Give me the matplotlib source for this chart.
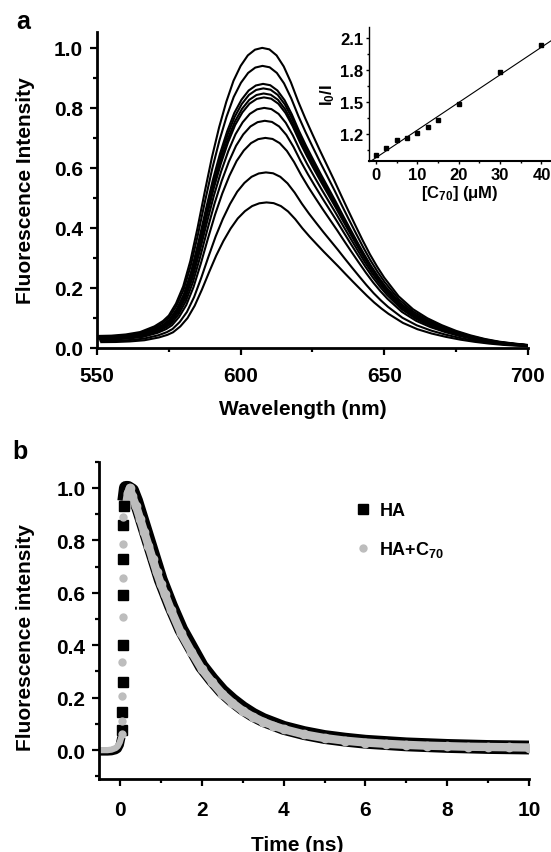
import numpy as np
import matplotlib
matplotlib.use("Agg")
from matplotlib import pyplot as plt
from matplotlib.ticker import MultipleLocator

plt.rcParams['font.family'] = ['Liberation Sans', 'DejaVu Sans']
plt.rcParams['font.weight'] = 'bold'
plt.rcParams['axes.labelweight'] = 'bold'
plt.rcParams['mathtext.fontset'] = 'custom'
plt.rcParams['mathtext.rm'] = 'Liberation Sans:bold'
plt.rcParams['mathtext.bf'] = 'Liberation Sans:bold'
plt.rcParams['mathtext.default'] = 'bf'

# ---- panel a: emission spectra (shape) ----
shape_wl = [550, 555, 560, 565, 570, 573, 575, 577.5, 580, 582.5, 585, 587.5,
            590, 592.5, 595, 597.5, 600, 602.5, 605, 607.5, 610, 612.5, 615,
            617.5, 620, 622.5, 625, 627.5, 630, 632.5, 635, 637.5, 640, 642.5,
            645, 647.5, 650, 655, 660, 665, 670, 675, 680, 685, 690, 695, 700]
shape_val = [0.040, 0.041, 0.045, 0.053, 0.072, 0.090, 0.108, 0.148, 0.205,
             0.290, 0.400, 0.520, 0.635, 0.735, 0.820, 0.890, 0.940, 0.975,
             0.994, 1.000, 0.995, 0.975, 0.938, 0.885, 0.822, 0.765, 0.712,
             0.660, 0.610, 0.560, 0.508, 0.457, 0.407, 0.358, 0.312, 0.271,
             0.234, 0.172, 0.129, 0.099, 0.076, 0.057, 0.042, 0.030, 0.021,
             0.015, 0.010]
peak_heights = [1.0, 0.94, 0.88, 0.865, 0.848, 0.835, 0.80, 0.757, 0.70, 0.585, 0.485]
peak_shift = [0.0, 0.1, 0.3, 0.4, 0.5, 0.6, 0.7, 0.9, 1.1, 1.3, 1.5]

# inset: Stern-Volmer plot
c70_conc = [0, 2.5, 5, 7.5, 10, 12.5, 15, 20, 30, 40]
i0_over_i = [1.0, 1.07, 1.14, 1.16, 1.21, 1.27, 1.33, 1.48, 1.78, 2.03]

# ---- panel b: fluorescence decay ----
ha_pre_t = [-0.5, -0.4, -0.3, -0.2, -0.1, -0.05, 0.0, 0.04]
ha_pre_y = [-0.005, -0.005, -0.005, -0.004, 0.0, 0.005, 0.02, 0.05]
ha_rise_t = [0.06, 0.065, 0.07, 0.075, 0.08, 0.085, 0.09, 0.095]
ha_rise_y = [0.075, 0.145, 0.258, 0.40, 0.59, 0.73, 0.858, 0.93]
ha_t = [0.11, 0.15, 0.2, 0.3, 0.4, 0.5, 0.6, 0.7, 0.8, 0.9, 1.0, 1.1, 1.25,
        1.5, 1.75, 2.0, 2.25, 2.5, 2.75, 3.0, 3.25, 3.5, 3.75, 4.0, 4.5, 5.0,
        5.5, 6.0, 6.5, 7.0, 7.5, 8.0, 8.5, 9.0, 9.5, 10.0]
ha_y = [0.95, 1.0, 1.0, 0.99, 0.95, 0.90, 0.85, 0.80, 0.75, 0.70, 0.65, 0.61,
        0.55, 0.46, 0.39, 0.32, 0.27, 0.225, 0.19, 0.16, 0.135, 0.115, 0.10,
        0.085, 0.065, 0.05, 0.04, 0.032, 0.027, 0.022, 0.019, 0.016, 0.014,
        0.012, 0.011, 0.01]

hac_pre_t = [-0.5, -0.4, -0.3, -0.2, -0.1, -0.05, 0.0, 0.04]
hac_pre_y = [0.0, 0.0, 0.0, 0.002, 0.008, 0.015, 0.03, 0.05]
hac_rise_t = [0.05, 0.055, 0.06, 0.065, 0.07, 0.075, 0.08, 0.085]
hac_rise_y = [0.06, 0.113, 0.208, 0.336, 0.507, 0.657, 0.786, 0.89]
hac_t = [0.15, 0.2, 0.25, 0.3, 0.4, 0.5, 0.6, 0.7, 0.8, 0.9, 1.0, 1.1, 1.25,
         1.5, 1.75, 2.0, 2.25, 2.5, 2.75, 3.0, 3.25, 3.5, 3.75, 4.0, 4.5, 5.0,
         5.5, 6.0, 6.5, 7.0, 7.5, 8.0, 8.5, 9.0, 9.5, 10.0]
hac_y = [0.93, 0.98, 1.0, 0.97, 0.93, 0.88, 0.83, 0.78, 0.73, 0.68, 0.635,
         0.595, 0.535, 0.445, 0.375, 0.31, 0.26, 0.215, 0.18, 0.15, 0.127,
         0.108, 0.093, 0.08, 0.06, 0.046, 0.036, 0.029, 0.024, 0.02, 0.017,
         0.015, 0.013, 0.012, 0.011, 0.01]


def style_axis(ax, size=15, width=2.0):
    ax.spines['top'].set_visible(False)
    ax.spines['right'].set_visible(False)
    for s in ('left', 'bottom'):
        ax.spines[s].set_linewidth(width)
    ax.tick_params(which='major', direction='out', length=5, width=1.6,
                   labelsize=size)
    ax.tick_params(which='minor', direction='out', length=3, width=1.6)
    for lab in ax.get_xticklabels() + ax.get_yticklabels():
        lab.set_fontweight('bold')


fig = plt.figure(figsize=(5.51, 8.53), dpi=100)

# panel a
ax = fig.add_axes([0.176, 0.5909, 0.7822, 0.3708])
wl = np.array(shape_wl)
sv = np.array(shape_val)
for h, d in zip(peak_heights, peak_shift):
    ax.plot(wl + d, sv * h, color='black', lw=1.5)
ax.set_xlim(550, 700)
ax.set_ylim(0, 1.054)
ax.xaxis.set_major_locator(MultipleLocator(50))
ax.xaxis.set_minor_locator(MultipleLocator(25))
ax.yaxis.set_major_locator(MultipleLocator(0.2))
ax.yaxis.set_minor_locator(MultipleLocator(0.1))
ax.yaxis.set_major_formatter(plt.FormatStrFormatter('%.1f'))
style_axis(ax)
ax.tick_params(axis='x', pad=8)
ax.tick_params(axis='y', pad=5)
ax.set_xlabel('Wavelength (nm)', fontsize=15)
ax.set_ylabel('Fluorescence Intensity', fontsize=15)
ax.xaxis.set_label_coords(0.478, -0.16)
ax.yaxis.set_label_coords(-0.143, 0.5)
fig.text(23 / 551, 1 - 22 / 853, 'a', fontsize=18, fontweight='bold',
         ha='center', va='center')

# inset
axi = fig.add_axes([0.6702, 0.8104, 0.3298, 0.1564])
axi.plot(c70_conc, i0_over_i, 's', color='black', ms=3.5)
k, b0 = np.polyfit(c70_conc, i0_over_i, 1)
xl = np.array([-1.6, 42.3])
axi.plot(xl, k * xl + b0, color='black', lw=0.8)
axi.set_xlim(-1.6, 42.3)
axi.set_ylim(0.95, 2.2)
axi.xaxis.set_major_locator(MultipleLocator(10))
axi.xaxis.set_minor_locator(MultipleLocator(5))
axi.yaxis.set_major_locator(MultipleLocator(0.3))
axi.yaxis.set_minor_locator(MultipleLocator(0.15))
axi.set_yticks([1.2, 1.5, 1.8, 2.1])
axi.yaxis.set_major_formatter(plt.FormatStrFormatter('%.1f'))
axi.spines['top'].set_visible(False)
axi.spines['right'].set_visible(False)
axi.spines['left'].set_linewidth(1.0)
axi.spines['bottom'].set_linewidth(1.5)
axi.tick_params(which='major', direction='out', length=2.5, width=1.0,
                labelsize=12, pad=2)
axi.tick_params(which='minor', direction='out', length=1.5, width=1.0)
for lab in axi.get_xticklabels() + axi.get_yticklabels():
    lab.set_fontweight('bold')
axi.set_xlabel('[C$_{70}$] (\u03bcM)', fontsize=12, labelpad=1)
axi.set_ylabel('I$_0$/I', fontsize=12, labelpad=2)

# panel b
bx = fig.add_axes([0.1802, 0.0856, 0.7804, 0.372])
bx.plot(ha_pre_t, ha_pre_y, color='black', lw=6, solid_capstyle='butt')
bx.plot(hac_pre_t, hac_pre_y, color='#bdbdbd', lw=4.5, solid_capstyle='butt')
bx.plot(ha_t, ha_y, color='black', lw=10, solid_capstyle='butt',
        solid_joinstyle='round')
bx.plot(hac_t, hac_y, color='#bdbdbd', lw=6, solid_capstyle='butt',
        solid_joinstyle='round')
bx.plot(hac_t, hac_y, 'o', color='#bdbdbd', ms=6)
bx.plot(ha_rise_t, ha_rise_y, 's', color='black', ms=6.5, label='HA')
bx.plot(hac_rise_t, hac_rise_y, 'o', color='#bdbdbd', ms=5,
        label='HA+C$_{70}$')
bx.set_xlim(-0.5, 10)
bx.set_ylim(-0.11, 1.1)
bx.xaxis.set_major_locator(MultipleLocator(2))
bx.xaxis.set_minor_locator(MultipleLocator(1))
bx.yaxis.set_major_locator(MultipleLocator(0.2))
bx.yaxis.set_minor_locator(MultipleLocator(0.1))
bx.set_yticks([0.0, 0.2, 0.4, 0.6, 0.8, 1.0])
bx.yaxis.set_major_formatter(plt.FormatStrFormatter('%.1f'))
style_axis(bx)
bx.tick_params(axis='x', pad=10)
bx.tick_params(axis='y', pad=5)
bx.set_xlabel('Time (ns)', fontsize=15)
bx.set_ylabel('Fluorescence intensity', fontsize=15)
bx.xaxis.set_label_coords(0.46, -0.175)
bx.yaxis.set_label_coords(-0.1495, 0.45)
leg = bx.legend(loc='upper left', bbox_to_anchor=(0.58, 0.895), frameon=False,
                fontsize=13, labelspacing=1.1, handlelength=0.8,
                handletextpad=0.5, borderaxespad=0)
for t in leg.get_texts():
    t.set_fontweight('bold')
fig.text(20 / 551, 1 - 452 / 853, 'b', fontsize=18, fontweight='bold',
         ha='center', va='center')

plt.savefig('out.png', dpi=100)
